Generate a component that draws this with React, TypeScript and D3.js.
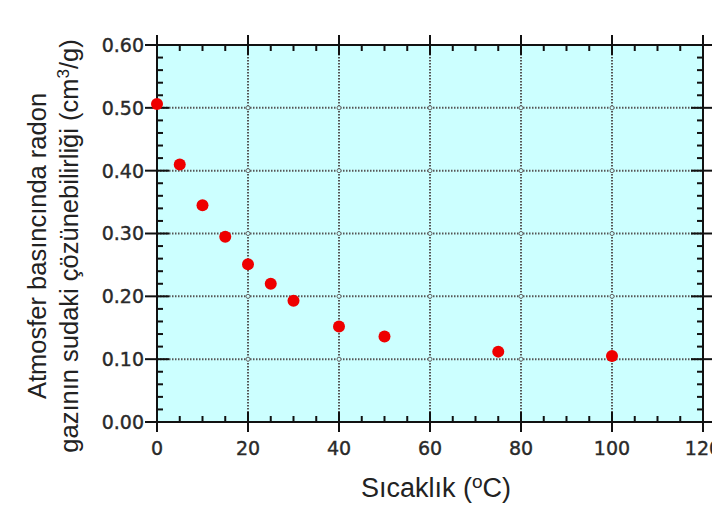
import { useEffect, useRef } from 'react';
import * as d3 from 'd3';

// temperature (°C) vs radon solubility in water (cm3/g)
const temps = [0, 5, 10, 15, 20, 25, 30, 40, 50, 75, 100];
const solubility = [0.506, 0.41, 0.345, 0.295, 0.251, 0.22, 0.193, 0.152, 0.136, 0.112, 0.105];

const xTicks = [0, 20, 40, 60, 80, 100, 120];
const yTicks = [0, 0.1, 0.2, 0.3, 0.4, 0.5, 0.6];

const width = 720;
const height = 512;

const App = () => {
  const svgRef = useRef<SVGSVGElement>(null);

  useEffect(() => {
    if (!svgRef.current) return;
    const svg = d3.select(svgRef.current);
    svg.selectAll('*').remove();

    const left = 157;
    const right = 703;
    const top = 45;
    const bottom = 422;

    const x = d3.scaleLinear().domain([0, 120]).range([left, right]);
    const y = d3.scaleLinear().domain([0, 0.6]).range([bottom, top]);

    // plot background
    svg.append('rect')
      .attr('x', left)
      .attr('y', top)
      .attr('width', right - left)
      .attr('height', bottom - top)
      .attr('fill', '#ccffff');

    // dotted grid
    const grid = svg.append('g')
      .attr('stroke', '#555')
      .attr('stroke-width', 2)
      .attr('stroke-dasharray', '1.5,1.5');
    grid.selectAll('line.gx')
      .data(xTicks.slice(1, -1))
      .join('line')
      .attr('x1', (d) => x(d))
      .attr('x2', (d) => x(d))
      .attr('y1', top)
      .attr('y2', bottom);
    grid.selectAll('line.gy')
      .data(yTicks.slice(1, -1))
      .join('line')
      .attr('x1', left)
      .attr('x2', right)
      .attr('y1', (d) => y(d))
      .attr('y2', (d) => y(d));

    // small rings at grid intersections
    const cross = xTicks.slice(1, -1).flatMap((a) => yTicks.slice(1, -1).map((b) => [a, b]));
    svg.append('g')
      .selectAll('circle')
      .data(cross)
      .join('circle')
      .attr('cx', (d) => x(d[0]))
      .attr('cy', (d) => y(d[1]))
      .attr('r', 2)
      .attr('fill', '#ccffff')
      .attr('stroke', '#666')
      .attr('stroke-width', 1);

    // frame
    svg.append('rect')
      .attr('x', left)
      .attr('y', top)
      .attr('width', right - left)
      .attr('height', bottom - top)
      .attr('fill', 'none')
      .attr('stroke', '#111')
      .attr('stroke-width', 2);

    const ticks = svg.append('g').attr('stroke', '#111').attr('stroke-width', 2);
    const xMinor = d3.range(5, 120, 5).filter((d) => d % 20 !== 0);
    const yMinor = d3.range(1, 30).map((d) => d * 0.02).filter((_, i) => (i + 1) % 5 !== 0);

    // minor ticks, pointing inward
    ticks.selectAll('line.xmb')
      .data(xMinor)
      .join('line')
      .attr('x1', (d) => x(d)).attr('x2', (d) => x(d))
      .attr('y1', bottom).attr('y2', bottom - 6);
    ticks.selectAll('line.xmt')
      .data(xMinor)
      .join('line')
      .attr('x1', (d) => x(d)).attr('x2', (d) => x(d))
      .attr('y1', top).attr('y2', top + 6);
    ticks.selectAll('line.yml')
      .data(yMinor)
      .join('line')
      .attr('x1', left).attr('x2', left + 6)
      .attr('y1', (d) => y(d)).attr('y2', (d) => y(d));
    ticks.selectAll('line.ymr')
      .data(yMinor)
      .join('line')
      .attr('x1', right).attr('x2', right - 6)
      .attr('y1', (d) => y(d)).attr('y2', (d) => y(d));

    // major ticks cross the frame
    ticks.selectAll('line.xMb')
      .data(xTicks)
      .join('line')
      .attr('x1', (d) => x(d)).attr('x2', (d) => x(d))
      .attr('y1', bottom - 10).attr('y2', bottom + 10);
    ticks.selectAll('line.xMt')
      .data(xTicks)
      .join('line')
      .attr('x1', (d) => x(d)).attr('x2', (d) => x(d))
      .attr('y1', top - 10).attr('y2', top + 10);
    ticks.selectAll('line.yMl')
      .data(yTicks)
      .join('line')
      .attr('x1', left - 12).attr('x2', left + 12)
      .attr('y1', (d) => y(d)).attr('y2', (d) => y(d));
    ticks.selectAll('line.yMr')
      .data(yTicks)
      .join('line')
      .attr('x1', right - 12).attr('x2', right + 12)
      .attr('y1', (d) => y(d)).attr('y2', (d) => y(d));

    // tick labels
    const labelFont = '"DejaVu Sans", sans-serif';
    svg.append('g')
      .selectAll('text')
      .data(yTicks)
      .join('text')
      .attr('x', left - 13)
      .attr('y', (d) => y(d))
      .attr('dy', '0.36em')
      .attr('text-anchor', 'end')
      .attr('font-family', labelFont)
      .attr('font-size', 19)
      .attr('fill', '#2a2a2a')
      .attr('stroke', '#2a2a2a')
      .attr('stroke-width', 0.4)
      .text((d) => d3.format('.2f')(d));
    svg.append('g')
      .selectAll('text')
      .data(xTicks)
      .join('text')
      .attr('x', (d) => x(d))
      .attr('y', bottom + 33)
      .attr('text-anchor', 'middle')
      .attr('font-family', labelFont)
      .attr('font-size', 19)
      .attr('fill', '#2a2a2a')
      .attr('stroke', '#2a2a2a')
      .attr('stroke-width', 0.4)
      .text((d) => String(d));

    // data points
    svg.append('g')
      .selectAll('circle')
      .data(temps.map((t, i) => [t, solubility[i]]))
      .join('circle')
      .attr('cx', (d) => x(d[0]))
      .attr('cy', (d) => y(d[1]))
      .attr('r', 6)
      .attr('fill', '#ee0000');

    // axis titles
    const titleFont = '"Liberation Sans", Arial, sans-serif';
    const xt = svg.append('text')
      .attr('x', 436)
      .attr('y', 497)
      .attr('text-anchor', 'middle')
      .attr('font-family', titleFont)
      .attr('font-size', 27)
      .attr('fill', '#222');
    xt.append('tspan').text('Sıcaklık (');
    xt.append('tspan').attr('font-size', 19).attr('dy', -9).text('o');
    xt.append('tspan').attr('dy', 9).text('C)');

    const yt = svg.append('text')
      .attr('transform', 'translate(0,246) rotate(-90)')
      .attr('text-anchor', 'middle')
      .attr('font-family', titleFont)
      .attr('font-size', 25.5)
      .attr('fill', '#222');
    yt.append('tspan').attr('x', 0).attr('y', 46).text('Atmosfer basıncında radon');
    const l2 = yt.append('tspan').attr('x', 0).attr('y', 78);
    l2.append('tspan').text('gazının sudaki çözünebilirliği (cm');
    yt.append('tspan').attr('font-size', 17).attr('dy', -9).text('3');
    yt.append('tspan').attr('dy', 9).text('/g)');
  }, []);

  return <svg ref={svgRef} width={width} height={height} style={{ display: 'block', margin: -8 }} />;
};

export default App;
